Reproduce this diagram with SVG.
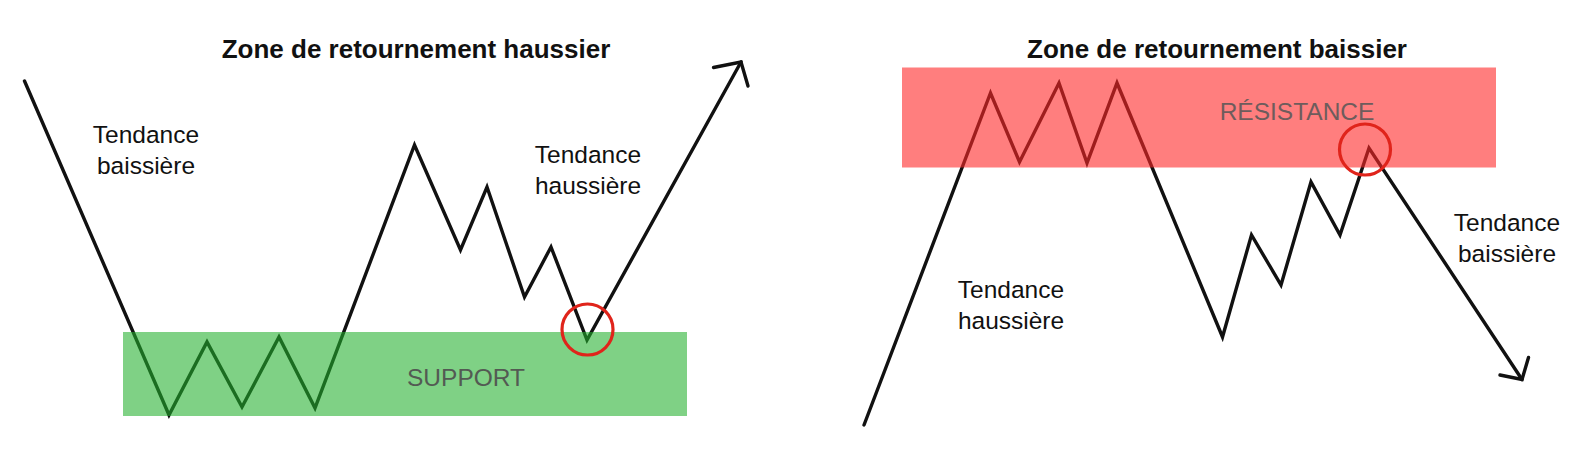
<svg xmlns="http://www.w3.org/2000/svg" width="1592" height="454" viewBox="0 0 1592 454">
<style>
.line{fill:none;stroke:#111;stroke-width:3.4;stroke-linejoin:miter;stroke-linecap:round}
.title{font-family:"Liberation Sans",Arial,sans-serif;font-weight:bold;font-size:26px;fill:#111;text-anchor:middle}
.lbl{font-family:"Liberation Sans",Arial,sans-serif;font-size:24.5px;fill:#111;text-anchor:middle}
.zone{font-family:"Liberation Sans",Arial,sans-serif;font-size:24.5px;text-anchor:middle}
.circ{fill:none;stroke:#e0241b;stroke-width:3.2}
</style>
<rect width="1592" height="454" fill="#ffffff"/>
<g id="connectors">
<polyline class="line" points="24.5,81 169,415 207,342 242,407 279,337 315,408 414.5,145 460.5,250 487,187 524.5,297 551,247 587,340 741,62"/>
<polyline class="line" points="713.5,67.5 741,62 748,86"/>
<polyline class="line" points="864,425 990.5,93 1019.5,162 1059,83 1087,163 1117,83 1222.5,337 1251.5,235 1281,285 1311,182 1340,235 1369,148 1522,379.5"/>
<polyline class="line" points="1500,375 1522,379.5 1528.5,357.5"/>
</g>
<g id="support-zone">
<rect x="123" y="332" width="564" height="84" fill="rgb(35,175,45)" fill-opacity="0.58"/>
<text class="zone" x="466" y="386" fill="#535a53">SUPPORT</text>
</g>
<g id="resistance-zone">
<rect x="902" y="67.5" width="594" height="100" fill="rgb(255,40,40)" fill-opacity="0.6"/>
<text class="zone" x="1297" y="120" fill="#6e5c5c">RÉSISTANCE</text>
</g>
<g id="title-left"><text class="title" x="416" y="58">Zone de retournement haussier</text></g>
<g id="title-right"><text class="title" x="1217" y="58">Zone de retournement baissier</text></g>
<g id="label-left-down"><text class="lbl" x="146" y="143"><tspan x="146">Tendance</tspan><tspan x="146" dy="31">baissière</tspan></text></g>
<g id="label-left-up"><text class="lbl" x="588" y="163"><tspan x="588">Tendance</tspan><tspan x="588" dy="31">haussière</tspan></text></g>
<g id="label-right-up"><text class="lbl" x="1011" y="298"><tspan x="1011">Tendance</tspan><tspan x="1011" dy="31">haussière</tspan></text></g>
<g id="label-right-down"><text class="lbl" x="1507" y="231"><tspan x="1507">Tendance</tspan><tspan x="1507" dy="31">baissière</tspan></text></g>
<g id="circle-left"><circle class="circ" cx="587.5" cy="329.5" r="25.5"/></g>
<g id="circle-right"><circle class="circ" cx="1365" cy="149.5" r="25.5"/></g>
</svg>
